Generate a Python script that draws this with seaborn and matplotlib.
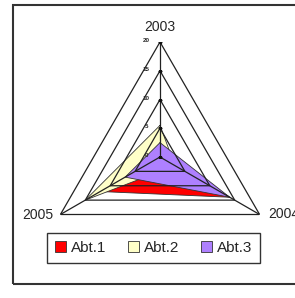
import numpy as np
import pandas as pd
import matplotlib
matplotlib.use("Agg")
import matplotlib.pyplot as plt
from matplotlib.patches import Rectangle, Patch
import seaborn as sns

categories = ["2003", "2004", "2005"]
series_names = ["Abt.1", "Abt.2", "Abt.3"]
abt1 = [1, 14, 12]
abt2 = [5.5, 3, 15]
abt3 = [2.5, 14, 7]
ring_values = [0, 5, 10, 15, 20]
ring_labels = ["0", "5", "10", "15", "20"]
colors = ["#FF0000", "#FFFFC8", "#AE80FF"]

sns.set_style("white")
plt.rcParams['font.family'] = ['Liberation Sans', 'DejaVu Sans']

W, H = 295, 298
fig = plt.figure(figsize=(W / 100, H / 100), dpi=100)
cx, cy, R = 160, 157, 115
ax = fig.add_axes([(cx - R) / W, (H - cy - R) / H, 2 * R / W, 2 * R / H], projection="polar")
ax.set_theta_offset(np.pi / 2)
ax.set_theta_direction(-1)
ax.set_ylim(0, 20)
ax.grid(False)
ax.set_xticks([])
ax.set_yticks([])
ax.spines["polar"].set_visible(False)
ax.patch.set_alpha(0)

n = len(categories)
theta = np.arange(n) * 2 * np.pi / n
theta_c = np.append(theta, theta[0])

data = pd.DataFrame({"Abt.1": abt1, "Abt.2": abt2, "Abt.3": abt3}, index=categories)
for i, name in enumerate(series_names):
    vals = np.append(data[name].values, data[name].values[0])
    ax.fill(theta_c, vals, color=colors[i], zorder=2 + i, lw=0)
    ax.plot(theta_c, vals, color="#333333", lw=0.6, zorder=2 + i)

# grid rings and spokes (drawn on top, like Excel)
for v in ring_values[1:]:
    ax.plot(theta_c, [v] * (n + 1), color="#222222", lw=0.9, zorder=10)
for t in theta:
    ax.plot([t, t], [0, 20], color="#222222", lw=0.9, zorder=10)
# tick marks on the value axis
ax.plot([0] * len(ring_values), ring_values, ls="none", marker="_", ms=3, color="#111111", zorder=11)
for v, lab in zip(ring_values, ring_labels):
    ax.annotate(lab, xy=(0, v), xytext=(-10, 1), textcoords="offset points",
                ha="center", va="center", fontsize=4.5, fontweight="bold", zorder=12)

# category labels
ax.annotate(categories[0], xy=(theta[0], 20), xytext=(0, 6), textcoords="offset points",
            ha="center", va="bottom", fontsize=10, annotation_clip=False)
ax.annotate(categories[1], xy=(theta[1], 20), xytext=(6, 0), textcoords="offset points",
            ha="left", va="center", fontsize=10, annotation_clip=False)
ax.annotate(categories[2], xy=(theta[2], 20), xytext=(-5, 0), textcoords="offset points",
            ha="right", va="center", fontsize=10, annotation_clip=False)

# outer chart border
fig.patches.append(Rectangle((13 / W, 14 / H), 1.2, (284 - 5) / H, transform=fig.transFigure,
                             fill=False, edgecolor="#333333", lw=1.5, zorder=0))

handles = [Patch(facecolor=c, edgecolor="#333333", lw=0.6) for c in colors]
leg = fig.legend(handles, series_names, loc="center", bbox_to_anchor=(153.5 / W, (H - 248) / H),
                 ncol=3, fontsize=11, frameon=True, fancybox=False, framealpha=1,
                 handlelength=0.75, handleheight=0.75, handletextpad=0.3, columnspacing=1.4,
                 borderpad=0.55, edgecolor="#333333")
leg.get_frame().set_linewidth(1.0)

fig.savefig("out.png", dpi=100)
